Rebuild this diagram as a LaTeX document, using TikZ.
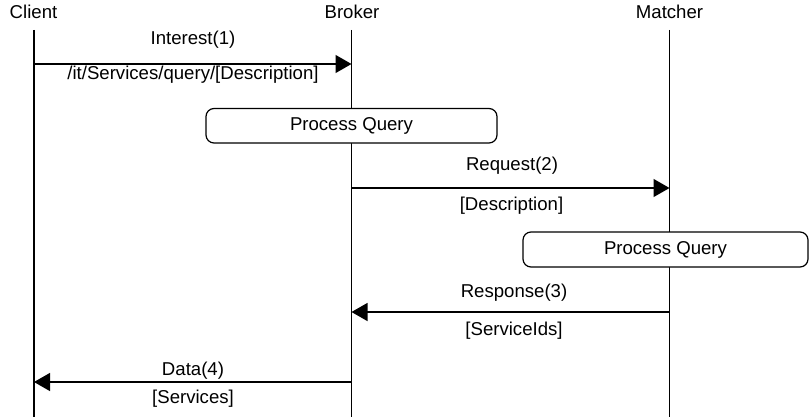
\documentclass[tikz,border=0pt]{standalone}
\usepackage{fontspec}
\setmainfont{Liberation Sans}
\usetikzlibrary{arrows.meta}
\begin{document}
\begin{tikzpicture}[x=1pt,y=-1pt,
  lifeline/.style={line width=1.2pt},
  msg/.style={line width=1.2pt,-{Triangle[length=16pt,width=18pt]}},
  lbl/.style={anchor=base,inner sep=0pt,font=\fontsize{18.6}{22}\selectfont},
  procbox/.style={draw,line width=1.2pt,rounded corners=8pt,fill=white,inner sep=0pt,font=\fontsize{18.6}{22}\selectfont}]
\useasboundingbox (0,0) rectangle (810,417);
% participants
\node[lbl] (client) at (33.5,19) {Client};
\node[lbl] (broker) at (352,19) {Broker};
\node[lbl] (matcher) at (669.5,19) {Matcher};
\coordinate (cTop) at (34,30);   \coordinate (cBot) at (34,417);
\coordinate (bTop) at (351.5,30); \coordinate (bBot) at (351.5,417);
\coordinate (mTop) at (669.5,30); \coordinate (mBot) at (669.5,417);
\draw[lifeline] (cTop) -- (cBot);
\draw[lifeline] (bTop) -- (bBot);
\draw[lifeline] (mTop) -- (mBot);
% process boxes
\node[procbox, minimum width=291pt, minimum height=34.5pt] (pq1) at (351.5,125.75) {Process Query};
\node[procbox, minimum width=285pt, minimum height=35pt] (pq2) at (665.5,249.5) {Process Query};
% message 1
\coordinate (m1s) at (34,64); \coordinate (m1e) at (351.5,64);
\draw[msg] (m1s) -- (m1e);
\node[lbl] (l1a) at (193,45) {Interest(1)};
\node[lbl] (l1b) at (193,80) {/it/Services/query/[Description]};
% message 2
\coordinate (m2s) at (351.5,188); \coordinate (m2e) at (669.5,188);
\draw[msg] (m2s) -- (m2e);
\node[lbl] (l2a) at (512,170) {Request(2)};
\node[lbl] (l2b) at (511.5,210.5) {[Description]};
% message 3
\coordinate (m3s) at (669.5,312); \coordinate (m3e) at (351.5,312);
\draw[msg] (m3s) -- (m3e);
\node[lbl] (l3a) at (514,297.5) {Response(3)};
\node[lbl] (l3b) at (514,335) {[ServiceIds]};
% message 4
\coordinate (m4s) at (351.5,382); \coordinate (m4e) at (34,382);
\draw[msg] (m4s) -- (m4e);
\node[lbl] (l4a) at (193,375) {Data(4)};
\node[lbl] (l4b) at (193,403.3) {[Services]};
\end{tikzpicture}
\end{document}
